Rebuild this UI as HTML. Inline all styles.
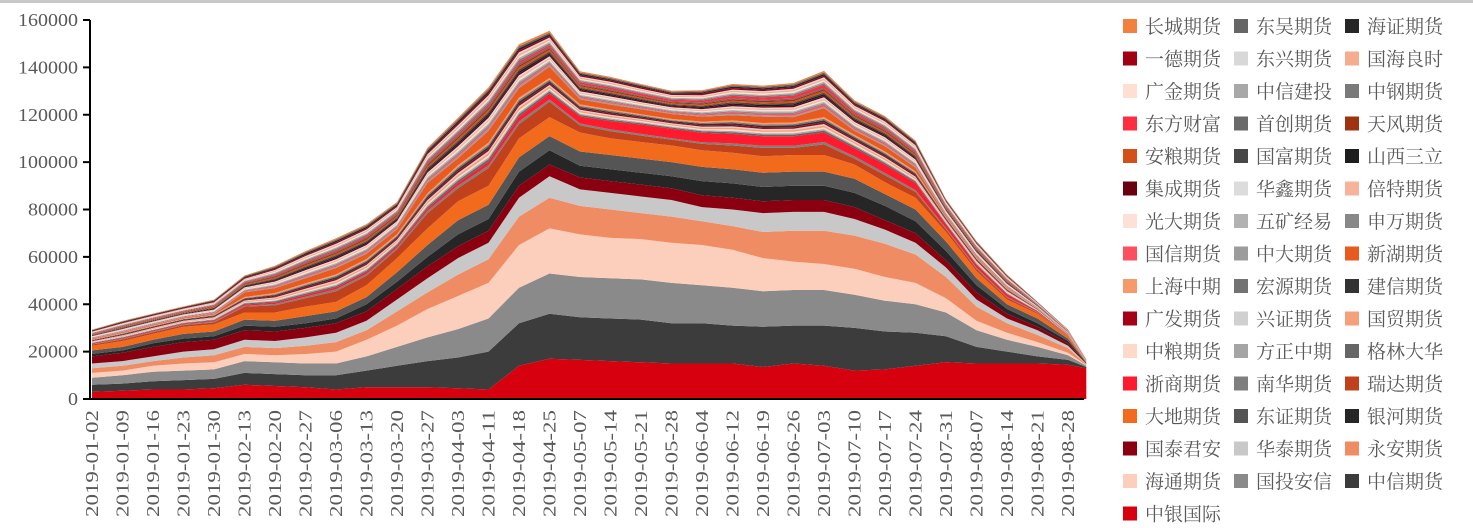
<!DOCTYPE html>
<html><head><meta charset="utf-8"><style>
body{margin:0;background:#fff;width:1473px;height:528px;overflow:hidden;position:relative}
svg{position:absolute;left:0;top:0}
text{font-family:"Liberation Serif","Noto Serif CJK SC",serif;fill:#595959}
</style></head><body>
<div style="position:absolute;left:0;top:0;width:1473px;height:3px;background:#c8c8c8"></div>
<svg id="c" width="1473" height="528"></svg>
<script>
const dates=["2019-01-02","2019-01-09","2019-01-16","2019-01-23","2019-01-30","2019-02-13","2019-02-20","2019-02-27","2019-03-06","2019-03-13","2019-03-20","2019-03-27","2019-04-03","2019-04-11","2019-04-18","2019-04-25","2019-05-07","2019-05-14","2019-05-21","2019-05-28","2019-06-04","2019-06-12","2019-06-19","2019-06-26","2019-07-03","2019-07-10","2019-07-17","2019-07-24","2019-07-31","2019-08-07","2019-08-14","2019-08-21","2019-08-28"];
const dayIdx=[0,5,10,15,20,25,30,35,40,45,50,55,60,65,70,75,80,85,90,95,100,105,110,115,120,125,130,135,140,145,150,155,160,163];
const yTicks=[0,20000,40000,60000,80000,100000,120000,140000,160000];
// stacking order bottom -> top (values in thousands)
const names=["中银国际","中信期货","国投安信","海通期货","永安期货","华泰期货","国泰君安","银河期货","东证期货","大地期货","瑞达期货","南华期货","浙商期货","格林大华","方正中期","中粮期货","国贸期货","兴证期货","广发期货","建信期货","宏源期货","上海中期","新湖期货","中大期货","国信期货","申万期货","五矿经易","光大期货","倍特期货","华鑫期货","集成期货","山西三立","国富期货","安粮期货","天风期货","首创期货","东方财富","中钢期货","中信建投","广金期货","国海良时","东兴期货","一德期货","海证期货","东吴期货","长城期货"];
const colors=["#d7000f","#3c3c3c","#8a8a8a","#fbcfbb","#f08c64","#c8c8c8","#8b0010","#262626","#555555","#f26b1d","#c0411b","#7f7f7f","#ff1a2e","#666666","#a5a5a5","#fcd9c9","#f4a07a","#d0d0d0","#a50014","#333333","#737373","#f79a6a","#e85a1e","#9c9c9c","#ff4f5e","#888888","#b2b2b2","#fde0d6","#f7b29a","#dcdcdc","#6b0010","#1e1e1e","#474747","#d4501a","#a0330f","#6a6a6a","#ff2d40","#7a7a7a","#a8a8a8","#fde0d2","#f5ad90","#d8d8d8","#a00012","#262626","#666666","#f4803f"];
const s0=[3,3.5,4,4,4.5,6,5.5,5,4,5,5,5,4.5,4,14,17,16.5,16,15.5,15,15,15,13.5,15,14,12,12.5,14,15.5,15,15,15,14.5,13];
const s1=[3,3,3.5,4,4,5,5,5,6,7,9,11,13,16,18,19,18,18,18,17,17,16,17,16,17,18,16,14,11,7,5,3,2,0.5];
const s2=[3,3.5,4,4,4,5,5,5,5,6,8,10,12,14,15,17,17,17,17,17,16,16,15,15,15,14,13,12,10,7,5,4,2,0.5];
const s3=[2,2,2.5,3,3,3,3,4,5,7,9,12,14,15,18,19,18,17,17,17,17,16,14,12,11,11,10,9,6,4,3,2,1,0.3];
const s4=[2,2,2,2.5,3,3,3,3.5,4,4,6,7,9,10,12,13,12,12,11,11,10,10,11,13,14,14,14,12,9,6,4,3,2,0.3];
const s5=[2,2,2,2.5,2.5,3,3,3.5,4,4,5,6,7,7,8,9,7,7,7,7,6,7,8,8,8,7,6,5,4,3,2,2,1,0.2];
const s6=[3,3.5,4,4,4,4,4,4,4,4,4.5,5,5,5,5,5,5,5,5,5,5,5,5,5,5,5,4,4,3,3,2,1.5,1,0.2];
const s7=[1,1,1.5,1.5,1.5,2,2,2,2,3,3,4,5,5,6,6,5,5,5,5,6,6,6,6,6,6,6,5,4,3,2,1.5,1,0.2];
const s8=[1.5,1.5,1.5,2,2,2.5,2.5,3,3,3,4,5,6,6,6,6,6,6,6,6,6,6,6,6,6,6,5,5,4,3,2,2,1,0.2];
const s9=[2,2.5,2.5,3,3,3,3.5,4,4,5,6,7,8,8,8,8,8,7,7,7,7,7,7,7,7,6,5,5,4,3,2,2,1,0.2];
const s10=[0.5,0.6,0.7,0.7,0.8,2.5,3,3.5,4.5,4,3.7,6.5,5.5,7.5,6,6.5,3,3,2.7,2.5,2.7,3,3.5,3,4.5,2.5,3,2.4,1.2,0.9,0.8,0.4,0.2,0.05];
const s11=[0.2,0.3,0.3,0.3,0.4,0.4,0.6,0.7,0.8,0.8,0.7,1,1.1,1.2,1.2,1,0.8,0.8,0.7,0.6,0.7,0.9,0.9,0.9,1,0.9,0.9,0.8,0.5,0.5,0.4,0.2,0.1,0.05];
const s12=[0.3,0.3,0.3,0.3,0.4,0.5,0.6,0.7,0.8,0.8,0.7,0.9,1.2,1.5,2,2.5,3,3.5,4,4,4,4,4,4,4,3.5,3.5,3,1.5,1.2,1,0.4,0.2,0.05];
const s13=[0.2,0.3,0.3,0.3,0.3,0.4,0.5,0.6,0.6,0.6,0.6,0.8,0.9,1,1,0.8,0.6,0.6,0.5,0.5,0.6,0.7,0.7,0.7,0.8,0.7,0.7,0.6,0.4,0.4,0.3,0.2,0.1,0.04];
const s14=[0.15,0.2,0.2,0.2,0.25,0.3,0.4,0.5,0.55,0.55,0.5,0.65,0.75,0.8,0.8,0.65,0.5,0.5,0.45,0.4,0.45,0.55,0.55,0.6,0.65,0.55,0.55,0.5,0.3,0.3,0.25,0.12,0.07,0.03];
const s15=[0.2,0.2,0.2,0.2,0.3,0.3,0.4,0.5,0.6,0.6,0.5,0.7,0.8,0.9,0.9,0.7,0.6,0.5,0.5,0.5,0.5,0.7,0.6,0.6,0.7,0.6,0.6,0.5,0.3,0.3,0.3,0.1,0.07,0.03];
const s16=[0.2,0.3,0.3,0.3,0.3,0.4,0.5,0.6,0.7,0.7,0.6,0.8,0.9,1,1,0.8,0.6,0.6,0.5,0.5,0.6,0.7,0.7,0.7,0.8,0.7,0.7,0.6,0.4,0.4,0.3,0.15,0.08,0.03];
const s17=[0.15,0.2,0.2,0.2,0.25,0.3,0.4,0.5,0.55,0.55,0.5,0.65,0.75,0.8,0.8,0.65,0.5,0.5,0.45,0.4,0.45,0.55,0.55,0.6,0.65,0.55,0.55,0.5,0.3,0.3,0.25,0.12,0.07,0.03];
const s18=[0.2,0.2,0.25,0.25,0.3,0.35,0.45,0.55,0.6,0.6,0.55,0.7,0.8,0.85,0.85,0.7,0.55,0.55,0.5,0.45,0.5,0.6,0.6,0.65,0.7,0.6,0.6,0.55,0.35,0.3,0.25,0.12,0.07,0.03];
const s19=[0.2,0.3,0.3,0.3,0.3,0.4,0.5,0.6,0.7,0.7,0.6,0.8,0.9,1,1,0.8,0.6,0.6,0.5,0.5,0.6,0.7,0.7,0.7,0.8,0.7,0.7,0.6,0.4,0.4,0.3,0.15,0.08,0.03];
const s20=[0.15,0.2,0.2,0.2,0.25,0.3,0.4,0.5,0.55,0.55,0.5,0.65,0.75,0.8,0.8,0.65,0.5,0.5,0.45,0.4,0.45,0.55,0.55,0.6,0.65,0.55,0.55,0.5,0.3,0.3,0.25,0.12,0.07,0.03];
const s21=[0.2,0.25,0.25,0.25,0.3,0.4,0.5,0.6,0.65,0.65,0.6,0.75,0.85,0.9,0.9,0.75,0.6,0.55,0.5,0.5,0.55,0.65,0.65,0.7,0.75,0.65,0.65,0.55,0.35,0.35,0.3,0.15,0.08,0.03];
const s22=[0.3,0.3,0.3,0.3,0.35,1.95,2.05,2.15,2.7,2.2,2.15,4.3,2.9,5,4,4.8,2.15,2.1,2.05,2.05,2.1,2.2,2.7,2.25,3.8,1.7,2.2,1.6,0.6,0.35,0.3,0.15,0.08,0.03];
const s23=[0.15,0.2,0.2,0.2,0.25,0.3,0.4,0.5,0.55,0.55,0.5,0.65,0.75,0.8,0.8,0.65,0.5,0.5,0.45,0.4,0.45,0.55,0.55,0.6,0.65,0.55,0.55,0.5,0.3,0.3,0.25,0.12,0.07,0.03];
const s24=[0.2,0.2,0.2,0.2,0.25,0.3,0.4,0.5,0.5,0.5,0.5,0.6,0.7,0.75,0.75,0.6,0.5,0.5,0.45,0.45,0.5,0.6,0.6,0.7,0.8,0.6,0.6,0.5,0.3,0.3,0.25,0.12,0.07,0.03];
const s25=[0.15,0.2,0.2,0.2,0.25,0.3,0.4,0.5,0.55,0.55,0.5,0.65,0.75,0.8,0.8,0.65,0.5,0.5,0.45,0.4,0.45,0.55,0.55,0.6,0.65,0.55,0.55,0.5,0.3,0.3,0.25,0.12,0.07,0.03];
const s26=[0.15,0.2,0.2,0.2,0.25,0.3,0.4,0.45,0.5,0.5,0.45,0.6,0.7,0.75,0.75,0.6,0.45,0.45,0.4,0.4,0.45,0.5,0.5,0.55,0.6,0.5,0.5,0.45,0.3,0.25,0.2,0.1,0.06,0.03];
const s27=[0.15,0.2,0.2,0.2,0.25,0.3,0.4,0.5,0.55,0.55,0.5,0.65,0.75,0.8,0.8,0.65,0.5,0.5,0.45,0.4,0.45,0.55,0.55,0.6,0.65,0.55,0.55,0.5,0.3,0.3,0.25,0.12,0.07,0.03];
const s28=[0.15,0.2,0.2,0.2,0.25,0.3,0.4,0.5,0.55,0.55,0.5,0.65,0.75,0.8,0.8,0.65,0.5,0.5,0.45,0.4,0.45,0.55,0.55,0.6,0.65,0.55,0.55,0.5,0.3,0.3,0.25,0.12,0.07,0.03];
const s29=[0.15,0.2,0.2,0.2,0.25,0.3,0.4,0.45,0.5,0.5,0.45,0.6,0.7,0.75,0.75,0.6,0.45,0.45,0.4,0.4,0.45,0.5,0.5,0.55,0.6,0.5,0.5,0.45,0.3,0.25,0.2,0.1,0.06,0.03];
const s30=[0.15,0.2,0.2,0.2,0.25,0.3,0.4,0.5,0.55,0.55,0.5,0.65,0.75,0.8,0.8,0.65,0.5,0.5,0.45,0.4,0.45,0.55,0.55,0.6,0.65,0.55,0.55,0.5,0.3,0.3,0.25,0.12,0.07,0.03];
const s31=[0.15,0.2,0.2,0.2,0.25,0.3,0.4,0.5,0.55,0.55,0.5,0.65,0.75,0.8,0.8,0.65,0.5,0.5,0.45,0.4,0.45,0.55,0.55,0.6,0.65,0.55,0.55,0.5,0.3,0.3,0.25,0.12,0.07,0.03];
const s32=[0.15,0.2,0.2,0.2,0.25,0.3,0.4,0.5,0.55,0.55,0.5,0.65,0.75,0.8,0.8,0.65,0.5,0.5,0.45,0.4,0.45,0.55,0.55,0.6,0.65,0.55,0.55,0.5,0.3,0.3,0.25,0.12,0.07,0.03];
const s33=[0.2,0.25,0.25,0.25,0.3,0.4,0.5,0.6,0.65,0.65,0.6,0.75,0.85,0.9,0.9,0.75,0.6,0.55,0.5,0.5,0.55,0.65,0.65,0.7,0.75,0.65,0.65,0.55,0.35,0.35,0.3,0.15,0.08,0.03];
const s34=[0.15,0.2,0.2,0.2,0.25,0.3,0.4,0.5,0.55,0.55,0.5,0.65,0.75,0.8,0.8,0.65,0.5,0.5,0.45,0.4,0.45,0.55,0.55,0.6,0.65,0.55,0.55,0.5,0.3,0.3,0.25,0.12,0.07,0.03];
const s35=[0.15,0.2,0.2,0.2,0.25,0.3,0.4,0.45,0.5,0.5,0.45,0.6,0.7,0.75,0.75,0.6,0.45,0.45,0.4,0.4,0.45,0.5,0.5,0.55,0.6,0.5,0.5,0.45,0.3,0.25,0.2,0.1,0.06,0.03];
const s36=[0.2,0.2,0.2,0.2,0.25,0.3,0.4,0.5,0.55,0.55,0.5,0.65,0.75,0.8,0.9,0.8,0.8,0.8,0.8,0.7,0.8,1,1,1.2,1.3,0.8,0.7,0.6,0.35,0.3,0.25,0.12,0.07,0.03];
const s37=[0.15,0.2,0.2,0.2,0.25,0.3,0.4,0.5,0.55,0.55,0.5,0.65,0.75,0.8,0.8,0.65,0.5,0.5,0.45,0.4,0.45,0.55,0.55,0.6,0.65,0.55,0.55,0.5,0.3,0.3,0.25,0.12,0.07,0.03];
const s38=[0.15,0.2,0.2,0.2,0.25,0.3,0.4,0.45,0.5,0.5,0.45,0.6,0.7,0.75,0.75,0.6,0.45,0.45,0.4,0.4,0.45,0.5,0.5,0.55,0.6,0.5,0.5,0.45,0.3,0.25,0.2,0.1,0.06,0.03];
const s39=[0.15,0.2,0.2,0.2,0.25,0.3,0.4,0.5,0.55,0.55,0.5,0.65,0.75,0.8,0.8,0.65,0.5,0.5,0.45,0.4,0.45,0.55,0.55,0.6,0.65,0.55,0.55,0.5,0.3,0.3,0.25,0.12,0.07,0.03];
const s40=[0.15,0.2,0.2,0.2,0.25,0.3,0.4,0.5,0.55,0.55,0.5,0.65,0.75,0.8,0.8,0.65,0.5,0.5,0.45,0.4,0.45,0.55,0.55,0.6,0.65,0.55,0.55,0.5,0.3,0.3,0.25,0.12,0.07,0.03];
const s41=[0.15,0.2,0.2,0.2,0.25,0.3,0.4,0.45,0.5,0.5,0.45,0.6,0.7,0.75,0.75,0.6,0.45,0.45,0.4,0.4,0.45,0.5,0.5,0.55,0.6,0.5,0.5,0.45,0.3,0.25,0.2,0.1,0.06,0.03];
const s42=[0.2,0.25,0.25,0.25,0.3,0.35,0.45,0.5,0.55,0.55,0.5,0.65,0.75,0.8,0.8,0.65,0.6,0.6,0.6,0.5,0.7,0.7,0.6,0.6,0.7,0.55,0.55,0.5,0.3,0.3,0.25,0.12,0.07,0.03];
const s43=[0.3,0.3,0.3,0.3,0.35,0.4,0.5,0.6,0.65,0.65,0.6,0.75,0.85,0.9,0.9,0.7,0.55,0.5,0.5,0.45,0.5,0.6,0.6,0.65,0.7,0.6,0.6,0.55,0.35,0.3,0.25,0.12,0.07,0.03];
const s44=[0.15,0.2,0.2,0.2,0.25,0.3,0.4,0.5,0.55,0.55,0.5,0.65,0.75,0.8,0.8,0.65,0.5,0.5,0.45,0.4,0.45,0.55,0.55,0.6,0.65,0.55,0.55,0.5,0.3,0.3,0.25,0.12,0.07,0.03];
const s45=[0.2,0.2,0.2,0.2,0.25,0.3,0.4,0.5,0.55,0.55,0.5,0.65,0.75,0.8,0.9,0.9,0.6,0.5,0.45,0.4,0.45,0.55,0.55,0.6,0.65,0.55,0.55,0.5,0.3,0.3,0.25,0.12,0.07,0.03];
const series=[s0,s1,s2,s3,s4,s5,s6,s7,s8,s9,s10,s11,s12,s13,s14,s15,s16,s17,s18,s19,s20,s21,s22,s23,s24,s25,s26,s27,s28,s29,s30,s31,s32,s33,s34,s35,s36,s37,s38,s39,s40,s41,s42,s43,s44,s45];

const NS="http://www.w3.org/2000/svg";
const svg=document.getElementById('c');
const X0=90,DX=6.1,Y0=399,YT=20,YMAX=160000;
const xs=d=>X0+2+d*DX;
const ys=v=>Y0-(v/YMAX)*(Y0-YT);
function mk(tag,attrs){const e=document.createElementNS(NS,tag);for(const k in attrs)e.setAttribute(k,attrs[k]);svg.appendChild(e);return e;}
let base=dayIdx.map(()=>0);
series.forEach((s,k)=>{
  const top=base.map((b,i)=>b+s[i]*1000);
  let d="M"+dayIdx.map((di,i)=>xs(di).toFixed(1)+","+ys(top[i]).toFixed(1)).join("L");
  for(let i=dayIdx.length-1;i>=0;i--)d+="L"+xs(dayIdx[i]).toFixed(1)+","+ys(base[i]).toFixed(1);
  d+="Z";
  const p=mk('path',{d:d,fill:colors[k]});
  
  
  base=top;
});
// axes
const ya=mk('line',{x1:X0,y1:YT,x2:X0,y2:Y0+1,stroke:'#000','stroke-width':2});


const xa=mk('line',{x1:X0-1,y1:Y0,x2:1084,y2:Y0,stroke:'#000','stroke-width':2});


yTicks.forEach(v=>{
  const y=ys(v);
  const t=mk('line',{x1:X0-7,y1:y,x2:X0,y2:y,stroke:'#000','stroke-width':2});
  
  
  const str=String(v);
  const l=mk('text',{x:X0-12,y:y+6,'text-anchor':'end','font-size':18,textLength:str.length*10,lengthAdjust:'spacingAndGlyphs'});
  l.textContent=str;
  
  
});
dates.forEach((dt,i)=>{
  const x=xs(dayIdx[i]);
  const l=mk('text',{x:0,y:0,'text-anchor':'end','font-size':18,textLength:107,lengthAdjust:'spacingAndGlyphs',transform:`translate(${x+6},410) rotate(-90)`});
  l.textContent=dt;
  
  
});
// legend (display order: reverse of stack)
for(let j=0;j<46;j++){
  const k=45-j;
  const col=j%3,row=Math.floor(j/3);
  const x=1123+col*111,y=26+row*32.5;
  const r=mk('rect',{x:x,y:y-7,width:14,height:14,fill:colors[k]});
  
  
  const t=mk('text',{x:x+22,y:y+7,'font-size':19});
  t.textContent=names[k];
  
  
}
</script>
</body></html>
